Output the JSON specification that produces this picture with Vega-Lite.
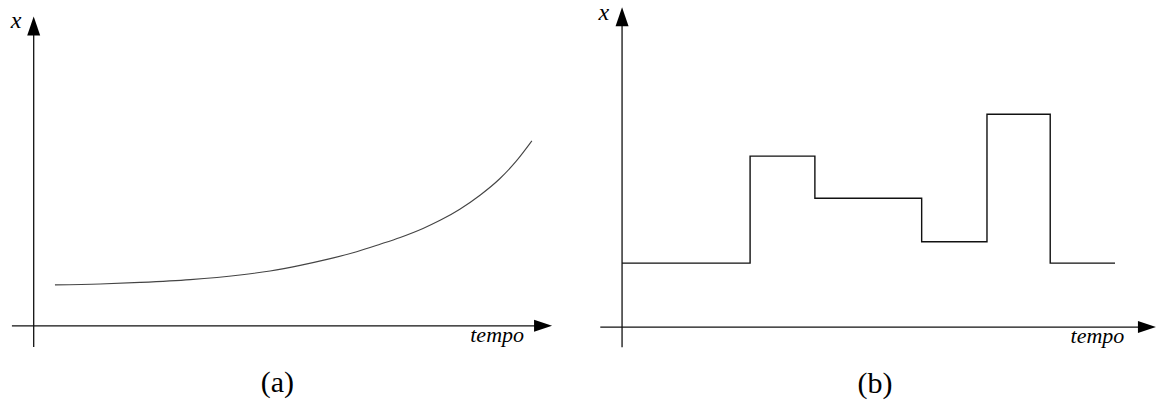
{
  "$schema": "https://vega.github.io/schema/vega-lite/v6.json",
  "padding": 0,
  "spacing": 0,
  "background": "white",
  "config": {"view": {"stroke": null}, "concat": {"spacing": 0}},
  "datasets": {
    "axesA": [
      {"x1": -0.42, "y1": 0, "x2": 9.8, "y2": 0},
      {"x1": 0, "y1": -0.68, "x2": 0, "y2": 9.7}
    ],
    "headsA": [
      {"x": 10.0, "y": 0, "dir": "right"},
      {"x": 0, "y": 9.97, "dir": "up"}
    ],
    "curveA": [
      {"t": 0.41, "v": 1.32},
      {"t": 1.28, "v": 1.35},
      {"t": 2.05, "v": 1.4},
      {"t": 3.02, "v": 1.49},
      {"t": 3.98, "v": 1.64},
      {"t": 4.56, "v": 1.77},
      {"t": 5.14, "v": 1.95},
      {"t": 5.68, "v": 2.15},
      {"t": 6.23, "v": 2.39},
      {"t": 6.68, "v": 2.63},
      {"t": 7.07, "v": 2.85},
      {"t": 7.51, "v": 3.14},
      {"t": 7.84, "v": 3.4},
      {"t": 8.22, "v": 3.76},
      {"t": 8.61, "v": 4.21},
      {"t": 8.99, "v": 4.74},
      {"t": 9.3, "v": 5.29},
      {"t": 9.61, "v": 5.96}
    ],
    "labelsA": [
      {"x": -0.34, "y": 9.6, "label": "x", "kind": "var"},
      {"x": 8.94, "y": -0.52, "label": "tempo", "kind": "time"},
      {"x": 4.7, "y": -2.13, "label": "(a)", "kind": "caption"}
    ],
    "axesB": [
      {"x1": -0.42, "y1": 0, "x2": 10.1, "y2": 0},
      {"x1": 0, "y1": -0.65, "x2": 0, "y2": 10.0}
    ],
    "headsB": [
      {"x": 10.3, "y": 0, "dir": "right"},
      {"x": 0, "y": 10.31, "dir": "up"}
    ],
    "stepsB": [
      {"t": 0, "v": 2.06},
      {"t": 2.47, "v": 5.51},
      {"t": 3.72, "v": 4.15},
      {"t": 5.78, "v": 2.75},
      {"t": 7.04, "v": 6.86},
      {"t": 8.26, "v": 2.06},
      {"t": 9.51, "v": 2.06}
    ],
    "labelsB": [
      {"x": -0.35, "y": 9.89, "label": "x", "kind": "var"},
      {"x": 9.17, "y": -0.52, "label": "tempo", "kind": "time"},
      {"x": 4.88, "y": -2.12, "label": "(b)", "kind": "caption"}
    ]
  },
  "hconcat": [
    {
      "width": 578,
      "height": 405,
      "layer": [
        {
          "data": {"name": "axesA"},
          "mark": {"type": "rule", "color": "#111", "strokeWidth": 1.3},
          "encoding": {
            "x": {"field": "x1", "type": "quantitative", "scale": {"domain": [-0.65, 10.5], "nice": false, "zero": false}, "axis": null},
            "x2": {"field": "x2"},
            "y": {"field": "y1", "type": "quantitative", "scale": {"domain": [-2.55, 10.5], "nice": false, "zero": false}, "axis": null},
            "y2": {"field": "y2"}
          }
        },
        {
          "data": {"name": "curveA"},
          "mark": {"type": "line", "color": "#444", "strokeWidth": 1.1, "interpolate": "monotone"},
          "encoding": {
            "x": {"field": "t", "type": "quantitative"},
            "y": {"field": "v", "type": "quantitative"}
          }
        },
        {
          "data": {"name": "headsA"},
          "mark": {"type": "point", "filled": true, "color": "black", "opacity": 1, "size": 400, "strokeWidth": 0},
          "encoding": {
            "x": {"field": "x", "type": "quantitative"},
            "y": {"field": "y", "type": "quantitative"},
            "shape": {"field": "dir", "type": "nominal", "legend": null,
              "scale": {"domain": ["up", "right"], "range": ["M0,0L0.65,1.9L-0.65,1.9Z", "M0,0L-1.8,-0.6L-1.8,0.6Z"]}}
          }
        },
        {
          "data": {"name": "labelsA"},
          "transform": [{"filter": "datum.kind === 'var'"}],
          "mark": {"type": "text", "font": "Liberation Serif", "fontStyle": "italic", "fontSize": 24, "baseline": "alphabetic", "align": "center", "color": "black"},
          "encoding": {
            "x": {"field": "x", "type": "quantitative"},
            "y": {"field": "y", "type": "quantitative"},
            "text": {"field": "label"}
          }
        },
        {
          "data": {"name": "labelsA"},
          "transform": [{"filter": "datum.kind === 'time'"}],
          "mark": {"type": "text", "font": "Liberation Serif", "fontStyle": "italic", "fontSize": 22, "baseline": "alphabetic", "align": "center", "color": "black"},
          "encoding": {
            "x": {"field": "x", "type": "quantitative"},
            "y": {"field": "y", "type": "quantitative"},
            "text": {"field": "label"}
          }
        },
        {
          "data": {"name": "labelsA"},
          "transform": [{"filter": "datum.kind === 'caption'"}],
          "mark": {"type": "text", "font": "Liberation Serif", "fontSize": 30, "baseline": "alphabetic", "align": "center", "color": "black"},
          "encoding": {
            "x": {"field": "x", "type": "quantitative"},
            "y": {"field": "y", "type": "quantitative"},
            "text": {"field": "label"}
          }
        }
      ]
    },
    {
      "width": 579,
      "height": 405,
      "layer": [
        {
          "data": {"name": "axesB"},
          "mark": {"type": "rule", "color": "#111", "strokeWidth": 1.3},
          "encoding": {
            "x": {"field": "x1", "type": "quantitative", "scale": {"domain": [-0.85, 10.32], "nice": false, "zero": false}, "axis": null},
            "x2": {"field": "x2"},
            "y": {"field": "y1", "type": "quantitative", "scale": {"domain": [-2.51, 10.54], "nice": false, "zero": false}, "axis": null},
            "y2": {"field": "y2"}
          }
        },
        {
          "data": {"name": "stepsB"},
          "mark": {"type": "line", "color": "#111", "strokeWidth": 1.4, "interpolate": "step-after"},
          "encoding": {
            "x": {"field": "t", "type": "quantitative"},
            "y": {"field": "v", "type": "quantitative"}
          }
        },
        {
          "data": {"name": "headsB"},
          "mark": {"type": "point", "filled": true, "color": "black", "opacity": 1, "size": 400, "strokeWidth": 0},
          "encoding": {
            "x": {"field": "x", "type": "quantitative"},
            "y": {"field": "y", "type": "quantitative"},
            "shape": {"field": "dir", "type": "nominal", "legend": null,
              "scale": {"domain": ["up", "right"], "range": ["M0,0L0.65,1.9L-0.65,1.9Z", "M0,0L-1.8,-0.6L-1.8,0.6Z"]}}
          }
        },
        {
          "data": {"name": "labelsB"},
          "transform": [{"filter": "datum.kind === 'var'"}],
          "mark": {"type": "text", "font": "Liberation Serif", "fontStyle": "italic", "fontSize": 24, "baseline": "alphabetic", "align": "center", "color": "black"},
          "encoding": {
            "x": {"field": "x", "type": "quantitative"},
            "y": {"field": "y", "type": "quantitative"},
            "text": {"field": "label"}
          }
        },
        {
          "data": {"name": "labelsB"},
          "transform": [{"filter": "datum.kind === 'time'"}],
          "mark": {"type": "text", "font": "Liberation Serif", "fontStyle": "italic", "fontSize": 22, "baseline": "alphabetic", "align": "center", "color": "black"},
          "encoding": {
            "x": {"field": "x", "type": "quantitative"},
            "y": {"field": "y", "type": "quantitative"},
            "text": {"field": "label"}
          }
        },
        {
          "data": {"name": "labelsB"},
          "transform": [{"filter": "datum.kind === 'caption'"}],
          "mark": {"type": "text", "font": "Liberation Serif", "fontSize": 30, "baseline": "alphabetic", "align": "center", "color": "black"},
          "encoding": {
            "x": {"field": "x", "type": "quantitative"},
            "y": {"field": "y", "type": "quantitative"},
            "text": {"field": "label"}
          }
        }
      ]
    }
  ]
}
